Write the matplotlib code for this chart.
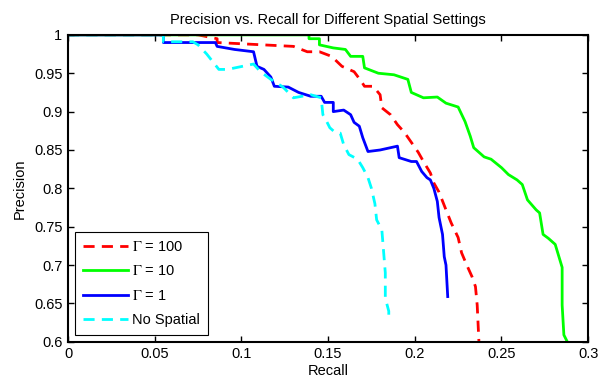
import matplotlib
matplotlib.use("Agg")
import matplotlib.pyplot as plt

# Recall / precision points (step-like PR curves)
recall_g100 = [0.0, 0.075, 0.086, 0.086, 0.130, 0.138, 0.145, 0.152, 0.158, 0.165, 0.169,
               0.171, 0.176, 0.180, 0.181, 0.186, 0.190, 0.194, 0.198, 0.202, 0.205, 0.209,
               0.211, 0.214, 0.218, 0.221, 0.225, 0.227, 0.230, 0.233, 0.235, 0.236, 0.237]
prec_g100 = [1.0, 1.0, 0.995, 0.99, 0.985, 0.978, 0.978, 0.972, 0.959, 0.952, 0.940,
             0.933, 0.933, 0.922, 0.905, 0.896, 0.883, 0.873, 0.860, 0.847, 0.835, 0.820,
             0.807, 0.795, 0.772, 0.755, 0.736, 0.716, 0.700, 0.685, 0.672, 0.648, 0.600]

recall_g10 = [0.0, 0.139, 0.139, 0.145, 0.145, 0.153, 0.160, 0.163, 0.170, 0.171, 0.179,
              0.188, 0.196, 0.198, 0.205, 0.213, 0.218, 0.225, 0.229, 0.232, 0.234, 0.240,
              0.244, 0.250, 0.254, 0.259, 0.262, 0.265, 0.270, 0.272, 0.274, 0.277, 0.281,
              0.285, 0.285, 0.286, 0.288]
prec_g10 = [1.0, 1.0, 0.995, 0.995, 0.987, 0.983, 0.981, 0.972, 0.972, 0.957, 0.950,
            0.948, 0.942, 0.925, 0.918, 0.919, 0.911, 0.906, 0.887, 0.868, 0.853, 0.841,
            0.838, 0.827, 0.818, 0.811, 0.805, 0.785, 0.772, 0.768, 0.740, 0.735, 0.727,
            0.697, 0.648, 0.609, 0.600]

recall_g1 = [0.0, 0.055, 0.055, 0.085, 0.086, 0.096, 0.107, 0.109, 0.113, 0.117, 0.119,
             0.127, 0.133, 0.140, 0.146, 0.148, 0.153, 0.153, 0.159, 0.163, 0.165, 0.168,
             0.170, 0.173, 0.180, 0.190, 0.191, 0.198, 0.201, 0.204, 0.207, 0.209, 0.211,
             0.213, 0.214, 0.216, 0.217, 0.218, 0.219]
prec_g1 = [1.0, 1.0, 0.990, 0.990, 0.985, 0.981, 0.978, 0.959, 0.955, 0.945, 0.933,
           0.932, 0.925, 0.920, 0.920, 0.912, 0.912, 0.900, 0.902, 0.896, 0.886, 0.881,
           0.866, 0.848, 0.850, 0.855, 0.840, 0.835, 0.835, 0.822, 0.814, 0.811, 0.800,
           0.783, 0.762, 0.740, 0.711, 0.700, 0.659]

recall_ns = [0.0, 0.055, 0.055, 0.072, 0.075, 0.080, 0.087, 0.092, 0.107, 0.111, 0.117,
             0.124, 0.130, 0.140, 0.146, 0.147, 0.149, 0.151, 0.154, 0.157, 0.159, 0.162,
             0.167, 0.170, 0.173, 0.175, 0.177, 0.178, 0.181, 0.183, 0.183, 0.185, 0.185]
prec_ns = [1.0, 1.0, 0.991, 0.991, 0.987, 0.975, 0.955, 0.955, 0.962, 0.952, 0.942,
           0.932, 0.918, 0.922, 0.918, 0.896, 0.888, 0.879, 0.873, 0.872, 0.857, 0.844,
           0.838, 0.827, 0.814, 0.800, 0.780, 0.759, 0.746, 0.690, 0.657, 0.640, 0.635]

labels = [r"$\Gamma$ = 100", r"$\Gamma$ = 10", r"$\Gamma$ = 1", "No Spatial"]
x_ticks = [0, 0.05, 0.1, 0.15, 0.2, 0.25, 0.3]
x_ticklabels = ["0", "0.05", "0.1", "0.15", "0.2", "0.25", "0.3"]
y_ticks = [0.6, 0.65, 0.7, 0.75, 0.8, 0.85, 0.9, 0.95, 1]
y_ticklabels = ["0.6", "0.65", "0.7", "0.75", "0.8", "0.85", "0.9", "0.95", "1"]

plt.rcParams["font.family"] = ["Liberation Sans", "DejaVu Sans"]
plt.rcParams["mathtext.fontset"] = "stix"
plt.rcParams["font.size"] = 10.5

fig = plt.figure(figsize=(6.02, 3.79), dpi=100)
ax = fig.add_axes([0.113, 0.098, 0.864, 0.810])

dash = (0, (4, 2.6))
ax.plot(recall_g100, prec_g100, color="#ff0000", lw=2, ls=dash, label=labels[0])
ax.plot(recall_g10, prec_g10, color="#00ff00", lw=2, label=labels[1])
ax.plot(recall_g1, prec_g1, color="#0000ff", lw=2, label=labels[2])
ax.plot(recall_ns, prec_ns, color="#00ffff", lw=2, ls=dash, label=labels[3])

ax.set_xlim(0, 0.3)
ax.set_ylim(0.6, 1)
ax.set_xticks(x_ticks)
ax.set_xticklabels(x_ticklabels)
ax.set_yticks(y_ticks)
ax.set_yticklabels(y_ticklabels)
ax.tick_params(direction="in", top=True, right=True, length=4, width=1, pad=4)
for s in ax.spines.values():
    s.set_linewidth(1.5)

ax.set_xlabel("Recall", labelpad=2)
ax.set_ylabel("Precision", labelpad=5)
ax.set_title("Precision vs. Recall for Different Spatial Settings", fontsize=10.5, pad=8)

leg = ax.legend(loc="lower left", fancybox=False, framealpha=1, edgecolor="black",
                handlelength=3.1, handletextpad=0.3, borderpad=0.55, labelspacing=0.72,
                borderaxespad=0.45)
leg.get_frame().set_linewidth(0.8)

fig.savefig("out.png", dpi=100)
